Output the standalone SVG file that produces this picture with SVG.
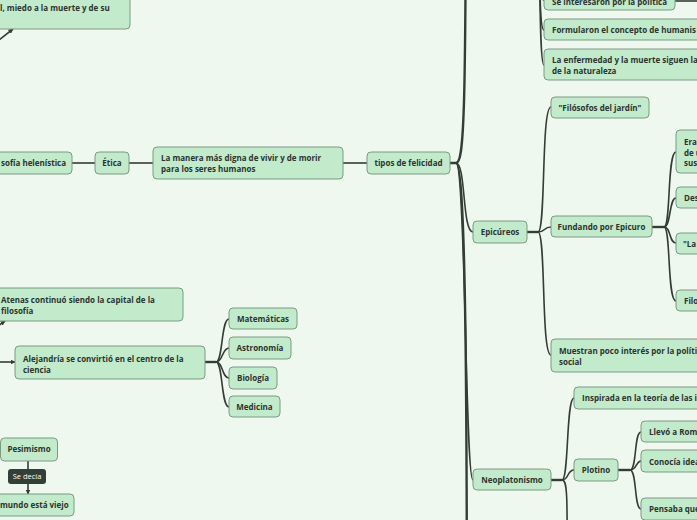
<svg xmlns="http://www.w3.org/2000/svg" width="697" height="520" viewBox="0 0 697 520">
<defs>
<marker id="arr" viewBox="0 0 10 10" refX="9" refY="5" markerWidth="5" markerHeight="5" orient="auto" markerUnits="userSpaceOnUse">
<path d="M0,0 L10,5 L0,10 z" fill="#333d36"/>
</marker>
</defs>
<style>
.bg{fill:#eff8ee}
.n rect{fill:#c1ebcb;stroke:#7c9a82;stroke-width:1}
.n text,.t{font-family:"Open Sans","Noto Sans","DejaVu Sans",sans-serif;font-weight:bold;font-size:8px;fill:#2d332f}
.m{text-anchor:middle}
.c path{fill:none;stroke:#333d36;stroke-width:1.6}
.c .w{stroke-width:2.4}
.lab rect{fill:#333e36}
.lab text{font-family:"Open Sans","Noto Sans",sans-serif;font-size:7.5px;fill:#ffffff;text-anchor:middle}
</style>
<rect class="bg" x="0" y="0" width="697" height="520"/>
<g class="c" id="connectors">
<path class="w" d="M450,163 H456 C464,163 466,120 466,-200"/>
<path class="w" d="M456,163 C466,163 467,400 467,700"/>
<path d="M456,163 C466,163 462,232 473,232"/>
<path d="M456,163 C466,163 465,480 473,480"/>
<path d="M72,163 H95"/>
<path d="M129,163 H153"/>
<path d="M343,163 H367"/>
<path d="M539,-80 C540,-10 540,0 544,0"/>
<path d="M539,-80 C540,0 540,30 544,30"/>
<path d="M539,-80 C540,0 540,65 544,65"/>
<path d="M675,1 H697"/>
<path class="w" d="M527,232 H538"/>
<path d="M538,232 C546,232 541,107 551,107"/>
<path d="M538,232 C546,232 543,227 551,227"/>
<path d="M538,232 C546,232 541,355 551,355"/>
<path class="w" d="M652,227 H664"/>
<path d="M664,227 C671,227 667,152 676,152"/>
<path d="M664,227 C671,227 669,198 676,198"/>
<path d="M664,227 C671,227 669,243 676,243"/>
<path d="M664,227 C671,227 667,301 676,301"/>
<path class="w" d="M551,480 H562"/>
<path d="M562,480 C569,480 566,398 574,398"/>
<path d="M562,480 C569,480 567,470 574,470"/>
<path d="M562,480 C569,480 567,500 567,700"/>
<path class="w" d="M618,470 H630"/>
<path d="M630,470 C637,470 634,432 641,432"/>
<path d="M630,470 C637,470 636,461 641,461"/>
<path d="M630,470 C637,470 634,509 641,509"/>
<path class="w" d="M205,362 H216"/>
<path d="M216,362 C223,362 221,319 229,319"/>
<path d="M216,362 C223,362 222,348 229,348"/>
<path d="M216,362 C223,362 222,378 229,378"/>
<path d="M216,362 C223,362 221,407 229,407"/>
<path d="M-6,44 L13,29" marker-end="url(#arr)"/>
<path d="M-8,330 L5,321" marker-end="url(#arr)"/>
<path d="M-2,362 L15,362" marker-end="url(#arr)"/>
<path d="M28,461 V469"/>
<path d="M28,484 V494" marker-end="url(#arr)"/>
</g>
<g class="lab" id="label-se-decia"><rect x="8" y="469" width="38" height="15" rx="3"/><text x="27" y="479">Se decía</text></g>

<g class="n" id="n-miedo"><rect x="-150" y="-30" width="280" height="59" rx="4"/><text x="0" y="11">l, miedo a la muerte y de su</text></g>
<g class="n" id="n-filosofia"><rect x="-40" y="152" width="112" height="22" rx="4"/><text x="1" y="166">sofía helenística</text></g>
<g class="n" id="n-etica"><rect x="95" y="152" width="34" height="22" rx="4"/><text class="m" x="112" y="166">Ética</text></g>
<g class="n" id="n-manera"><rect x="153" y="147" width="190" height="32" rx="4"/><text x="161" y="160.5">La manera más digna de vivir y de morir</text><text x="161" y="172">para los seres humanos</text></g>
<g class="n" id="n-tipos"><rect x="367" y="152" width="83" height="22" rx="4"/><text class="m" x="408.5" y="166">tipos de felicidad</text></g>

<g class="n" id="n-interesaron"><rect x="544" y="-12" width="131" height="22" rx="4"/><text x="552" y="4.5">Se interesaron por la política</text></g>
<g class="n" id="n-formularon"><rect x="544" y="19" width="200" height="21" rx="4"/><text x="552" y="33">Formularon el concepto de humanis</text></g>
<g class="n" id="n-enfermedad"><rect x="544" y="49" width="200" height="31" rx="4"/><text x="552" y="63">La enfermedad y la muerte siguen la</text><text x="552" y="74">de la naturaleza</text></g>

<g class="n" id="n-epicureos"><rect x="473" y="221" width="54" height="22" rx="4"/><text class="m" x="500" y="235">Epicúreos</text></g>
<g class="n" id="n-jardin"><rect x="551" y="97" width="98" height="21" rx="4"/><text class="m" x="600" y="110.5">"Filósofos del jardín"</text></g>
<g class="n" id="n-fundando"><rect x="551" y="216" width="101" height="21" rx="4"/><text class="m" x="601.5" y="230">Fundando por Epicuro</text></g>
<g class="n" id="n-muestran"><rect x="551" y="339" width="200" height="33" rx="4"/><text x="559" y="354">Muestran poco interés por la polític</text><text x="559" y="364.5">social</text></g>
<g class="n" id="n-era"><rect x="676" y="130" width="60" height="43" rx="4"/><text x="684" y="144.5">Era</text><text x="684" y="155.5">de u</text><text x="684" y="166">sus</text></g>
<g class="n" id="n-des"><rect x="676" y="187" width="60" height="21" rx="4"/><text x="684" y="201">Des</text></g>
<g class="n" id="n-la"><rect x="676" y="233" width="60" height="21" rx="4"/><text x="683" y="246.5">"La</text></g>
<g class="n" id="n-filo"><rect x="676" y="290" width="60" height="21" rx="4"/><text x="684" y="304">Filo</text></g>

<g class="n" id="n-neoplatonismo"><rect x="473" y="469" width="78" height="21" rx="4"/><text class="m" x="512" y="483">Neoplatonismo</text></g>
<g class="n" id="n-inspirada"><rect x="574" y="387" width="200" height="22" rx="4"/><text x="582" y="401">Inspirada en la teoría de las i</text></g>
<g class="n" id="n-plotino"><rect x="574" y="459" width="44" height="22" rx="4"/><text class="m" x="596" y="473">Plotino</text></g>
<g class="n" id="n-llevo"><rect x="641" y="421" width="100" height="21" rx="4"/><text x="649" y="435">Llevó a Rom</text></g>
<g class="n" id="n-conocia"><rect x="641" y="450" width="100" height="22" rx="4"/><text x="649" y="464.5">Conocía idea</text></g>
<g class="n" id="n-pensaba"><rect x="641" y="498" width="100" height="22" rx="4"/><text x="649" y="512">Pensaba que</text></g>

<g class="n" id="n-atenas"><rect x="-20" y="288" width="203" height="33" rx="4"/><text x="1" y="303">Atenas continuó siendo la capital de la</text><text x="1" y="314">filosofía</text></g>
<g class="n" id="n-alejandria"><rect x="15" y="346" width="190" height="33" rx="4"/><text x="23" y="362">Alejandría se convirtió en el centro de la</text><text x="23" y="372.5">ciencia</text></g>
<g class="n" id="n-matematicas"><rect x="229" y="308" width="68" height="21" rx="4"/><text class="m" x="263" y="322">Matemáticas</text></g>
<g class="n" id="n-astronomia"><rect x="229" y="337" width="62" height="22" rx="4"/><text class="m" x="260" y="351">Astronomía</text></g>
<g class="n" id="n-biologia"><rect x="229" y="367" width="48" height="22" rx="4"/><text class="m" x="253" y="381">Biología</text></g>
<g class="n" id="n-medicina"><rect x="229" y="396" width="51" height="21" rx="4"/><text class="m" x="254.5" y="410">Medicina</text></g>

<g class="n" id="n-pesimismo"><rect x="0.5" y="438" width="57" height="23" rx="4"/><text class="m" x="29" y="452">Pesimismo</text></g>
<g class="n" id="n-mundo"><rect x="-30" y="494" width="104" height="22" rx="4"/><text x="0" y="508">mundo está viejo</text></g>
</svg>
